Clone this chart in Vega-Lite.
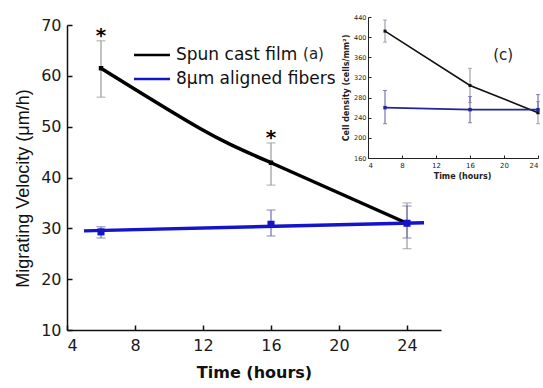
{
  "$schema": "https://vega.github.io/schema/vega-lite/v6.json",
  "width": 374,
  "height": 305,
  "autosize": {"type": "none"},
  "padding": {"left": 67, "top": 25, "right": 102, "bottom": 58},
  "background": "white",
  "config": {"view": {"stroke": null}, "font": "DejaVu Sans"},
  "datasets": {
    "main": [
      {"s": "Spun cast film", "t": 6, "v": 61.5, "lo": 55.8, "hi": 66.9},
      {"s": "Spun cast film", "t": 16, "v": 42.9, "lo": 38.5, "hi": 46.8},
      {"s": "Spun cast film", "t": 24, "v": 31.0, "lo": 26.0, "hi": 35.0},
      {"s": "8μm aligned fibers", "t": 6, "v": 29.3, "lo": 28.1, "hi": 30.3},
      {"s": "8μm aligned fibers", "t": 16, "v": 30.8, "lo": 28.5, "hi": 33.6},
      {"s": "8μm aligned fibers", "t": 24, "v": 31.0, "lo": 28.1, "hi": 34.4}
    ],
    "fit": [
      {"s": "Spun cast film", "t": 6, "v": 61.5},
      {"s": "Spun cast film", "t": 11.8, "v": 49.7},
      {"s": "Spun cast film", "t": 16, "v": 42.9},
      {"s": "Spun cast film", "t": 24, "v": 31.0},
      {"s": "8μm aligned fibers", "t": 5, "v": 29.5},
      {"s": "8μm aligned fibers", "t": 25, "v": 31.1}
    ],
    "stars": [
      {"t": 6, "v": 68.6, "label": "*"},
      {"t": 16, "v": 48.6, "label": "*"}
    ],
    "panelA": [{"t": 18.5, "v": 64.3, "label": "(a)"}],
    "inset": [
      {"s": "Spun cast film", "t": 6, "v": 412, "lo": 390, "hi": 434},
      {"s": "Spun cast film", "t": 16, "v": 304, "lo": 270, "hi": 338},
      {"s": "Spun cast film", "t": 24, "v": 250, "lo": 228, "hi": 272},
      {"s": "8μm aligned fibers", "t": 6, "v": 260, "lo": 228, "hi": 294},
      {"s": "8μm aligned fibers", "t": 16, "v": 256, "lo": 230, "hi": 282},
      {"s": "8μm aligned fibers", "t": 24, "v": 256, "lo": 248, "hi": 286}
    ],
    "panelC": [{"t": 19.9, "v": 365, "label": "(c)"}]
  },
  "layer": [
    {
      "encoding": {
        "x": {
          "field": "t", "type": "quantitative", "title": "Time (hours)",
          "scale": {"domain": [4, 26], "nice": false, "zero": false},
          "axis": {
            "values": [4, 8, 12, 16, 20, 24], "grid": false,
            "tickSize": -5, "tickWidth": 1.5, "tickColor": "#111",
            "domainColor": "#111", "domainWidth": 1.5,
            "labelPadding": 12, "labelFont": "DejaVu Sans", "labelFontSize": 16, "labelColor": "#1a1a1a",
            "title": "Time (hours)", "titleFont": "DejaVu Sans", "titleFontSize": 16, "titleFontWeight": "bold",
            "titleColor": "#111", "titlePadding": 11
          }
        }
      },
      "layer": [
        {
          "data": {"name": "main"},
          "transform": [{"filter": "datum.s == 'Spun cast film'"}],
          "mark": {"type": "rule", "color": "#9a9a9a", "strokeWidth": 1.2},
          "encoding": {
            "y": {
              "field": "lo", "type": "quantitative", "title": "Migrating Velocity (μm/h)",
              "scale": {"domain": [10, 70], "nice": false, "zero": false},
              "axis": {
                "values": [10, 20, 30, 40, 50, 60, 70], "grid": false,
                "tickSize": -5, "tickWidth": 1.5, "tickColor": "#111",
                "domainColor": "#111", "domainWidth": 1.5,
                "labelPadding": 11, "labelFont": "DejaVu Sans", "labelFontSize": 16, "labelColor": "#1a1a1a",
                "title": "Migrating Velocity (μm/h)", "titleFont": "Liberation Sans", "titleFontSize": 18,
                "titleFontWeight": "normal", "titleColor": "#111", "titlePadding": 8, "titleY": 163
              }
            },
            "y2": {"field": "hi"}
          }
        },
        {
          "data": {"name": "main"},
          "transform": [{"filter": "datum.s == 'Spun cast film'"}],
          "mark": {"type": "tick", "orient": "horizontal", "color": "#9a9a9a", "size": 9, "thickness": 1.2},
          "encoding": {"y": {"field": "lo", "type": "quantitative", "title": "Migrating Velocity (μm/h)", "scale": {"domain": [10, 70], "nice": false, "zero": false}}}
        },
        {
          "data": {"name": "main"},
          "transform": [{"filter": "datum.s == 'Spun cast film'"}],
          "mark": {"type": "tick", "orient": "horizontal", "color": "#9a9a9a", "size": 9, "thickness": 1.2},
          "encoding": {"y": {"field": "hi", "type": "quantitative", "title": "Migrating Velocity (μm/h)", "scale": {"domain": [10, 70], "nice": false, "zero": false}}}
        },
        {
          "data": {"name": "main"},
          "transform": [{"filter": "datum.s != 'Spun cast film'"}],
          "mark": {"type": "rule", "color": "#7070b0", "strokeWidth": 1.2},
          "encoding": {
            "y": {"field": "lo", "type": "quantitative", "title": "Migrating Velocity (μm/h)", "scale": {"domain": [10, 70], "nice": false, "zero": false}},
            "y2": {"field": "hi"}
          }
        },
        {
          "data": {"name": "main"},
          "transform": [{"filter": "datum.s != 'Spun cast film'"}],
          "mark": {"type": "tick", "orient": "horizontal", "color": "#7070b0", "size": 9, "thickness": 1.2},
          "encoding": {"y": {"field": "lo", "type": "quantitative", "title": "Migrating Velocity (μm/h)", "scale": {"domain": [10, 70], "nice": false, "zero": false}}}
        },
        {
          "data": {"name": "main"},
          "transform": [{"filter": "datum.s != 'Spun cast film'"}],
          "mark": {"type": "tick", "orient": "horizontal", "color": "#7070b0", "size": 9, "thickness": 1.2},
          "encoding": {"y": {"field": "hi", "type": "quantitative", "title": "Migrating Velocity (μm/h)", "scale": {"domain": [10, 70], "nice": false, "zero": false}}}
        },
        {
          "data": {"name": "fit"},
          "mark": {"type": "line", "interpolate": "natural", "strokeWidth": 3.5},
          "encoding": {
            "y": {"field": "v", "type": "quantitative", "title": "Migrating Velocity (μm/h)", "scale": {"domain": [10, 70], "nice": false, "zero": false}},
            "color": {
              "field": "s", "type": "nominal", "sort": null,
              "scale": {"domain": ["Spun cast film", "8μm aligned fibers"], "range": ["#000000", "#1414c8"]},
              "legend": {
                "orient": "none", "legendX": 90, "legendY": 21.5, "title": null,
                "symbolType": "M-7,0H1", "symbolSize": 81, "symbolStrokeWidth": 2.5,
                "labelFont": "DejaVu Sans", "labelFontSize": 17, "labelColor": "#111",
                "rowPadding": 6, "labelOffset": 2, "padding": 0, "labelLimit": 300
              }
            }
          }
        },
        {
          "data": {"name": "main"},
          "transform": [{"filter": "datum.s == 'Spun cast film'"}],
          "mark": {"type": "point", "shape": "square", "filled": true, "size": 20, "color": "#000000", "opacity": 1},
          "encoding": {"y": {"field": "v", "type": "quantitative", "title": "Migrating Velocity (μm/h)", "scale": {"domain": [10, 70], "nice": false, "zero": false}}}
        },
        {
          "data": {"name": "main"},
          "transform": [{"filter": "datum.s != 'Spun cast film'"}],
          "mark": {"type": "point", "shape": "square", "filled": true, "size": 50, "color": "#1414c8", "opacity": 1},
          "encoding": {"y": {"field": "v", "type": "quantitative", "title": "Migrating Velocity (μm/h)", "scale": {"domain": [10, 70], "nice": false, "zero": false}}}
        },
        {
          "data": {"name": "stars"},
          "mark": {"type": "text", "font": "DejaVu Sans", "fontWeight": "bold", "fontSize": 20, "color": "#000", "baseline": "alphabetic", "dy": 10},
          "encoding": {
            "y": {"field": "v", "type": "quantitative", "title": "Migrating Velocity (μm/h)", "scale": {"domain": [10, 70], "nice": false, "zero": false}},
            "text": {"field": "label"}
          }
        },
        {
          "data": {"name": "panelA"},
          "mark": {"type": "text", "font": "DejaVu Sans", "fontSize": 15, "color": "#222", "baseline": "middle"},
          "encoding": {
            "y": {"field": "v", "type": "quantitative", "title": "Migrating Velocity (μm/h)", "scale": {"domain": [10, 70], "nice": false, "zero": false}},
            "text": {"field": "label"}
          }
        }
      ]
    },
    {
      "encoding": {
        "x": {
          "field": "t", "type": "quantitative", "title": "Time (hours)",
          "scale": {"domain": [4, 24], "nice": false, "zero": false, "range": [301, 471]},
          "axis": {
            "orient": "bottom", "offset": -172, "values": [4, 8, 12, 16, 20, 24], "grid": false,
            "tickSize": -3, "tickWidth": 1, "tickColor": "#222",
            "domainColor": "#222", "domainWidth": 1,
            "labelPadding": 6, "labelFont": "DejaVu Sans", "labelFontSize": 7, "labelColor": "#222",
            "title": "Time (hours)", "titleFont": "DejaVu Sans", "titleFontSize": 8, "titleFontWeight": "bold",
            "titleColor": "#222", "titlePadding": 4, "titleX": 395
          }
        }
      },
      "layer": [
        {
          "data": {"name": "inset"},
          "transform": [{"filter": "datum.s == 'Spun cast film'"}],
          "mark": {"type": "rule", "color": "#8c8c9c", "strokeWidth": 1},
          "encoding": {
            "y": {
              "field": "lo", "type": "quantitative", "title": "Cell density (cells/mm²)",
              "scale": {"domain": [160, 440], "nice": false, "zero": false, "range": [133, -8]},
              "axis": {
                "orient": "left", "offset": -301, "values": [160, 200, 240, 280, 320, 360, 400, 440], "grid": false,
                "tickSize": -3, "tickWidth": 1, "tickColor": "#222",
                "domainColor": "#222", "domainWidth": 1,
                "labelPadding": 5, "labelFont": "DejaVu Sans", "labelFontSize": 6.5, "labelColor": "#222",
                "title": "Cell density (cells/mm²)", "titleFont": "DejaVu Sans", "titleFontSize": 8, "titleFontWeight": "bold",
                "titleColor": "#222", "titlePadding": 3
              }
            },
            "y2": {"field": "hi"}
          }
        },
        {
          "data": {"name": "inset"},
          "transform": [{"filter": "datum.s == 'Spun cast film'"}],
          "mark": {"type": "tick", "orient": "horizontal", "color": "#8c8c9c", "size": 4, "thickness": 1},
          "encoding": {"y": {"field": "lo", "type": "quantitative", "title": "Cell density (cells/mm²)", "scale": {"domain": [160, 440], "nice": false, "zero": false, "range": [133, -8]}}}
        },
        {
          "data": {"name": "inset"},
          "transform": [{"filter": "datum.s == 'Spun cast film'"}],
          "mark": {"type": "tick", "orient": "horizontal", "color": "#8c8c9c", "size": 4, "thickness": 1},
          "encoding": {"y": {"field": "hi", "type": "quantitative", "title": "Cell density (cells/mm²)", "scale": {"domain": [160, 440], "nice": false, "zero": false, "range": [133, -8]}}}
        },
        {
          "data": {"name": "inset"},
          "transform": [{"filter": "datum.s != 'Spun cast film'"}],
          "mark": {"type": "rule", "color": "#5a5aa8", "strokeWidth": 1},
          "encoding": {
            "y": {"field": "lo", "type": "quantitative", "title": "Cell density (cells/mm²)", "scale": {"domain": [160, 440], "nice": false, "zero": false, "range": [133, -8]}},
            "y2": {"field": "hi"}
          }
        },
        {
          "data": {"name": "inset"},
          "transform": [{"filter": "datum.s != 'Spun cast film'"}],
          "mark": {"type": "tick", "orient": "horizontal", "color": "#5a5aa8", "size": 4, "thickness": 1},
          "encoding": {"y": {"field": "lo", "type": "quantitative", "title": "Cell density (cells/mm²)", "scale": {"domain": [160, 440], "nice": false, "zero": false, "range": [133, -8]}}}
        },
        {
          "data": {"name": "inset"},
          "transform": [{"filter": "datum.s != 'Spun cast film'"}],
          "mark": {"type": "tick", "orient": "horizontal", "color": "#5a5aa8", "size": 4, "thickness": 1},
          "encoding": {"y": {"field": "hi", "type": "quantitative", "title": "Cell density (cells/mm²)", "scale": {"domain": [160, 440], "nice": false, "zero": false, "range": [133, -8]}}}
        },
        {
          "data": {"name": "inset"},
          "transform": [{"filter": "datum.s == 'Spun cast film'"}],
          "mark": {"type": "line", "color": "#111111", "strokeWidth": 1.6, "point": {"shape": "square", "filled": true, "size": 9, "color": "#111111"}},
          "encoding": {"y": {"field": "v", "type": "quantitative", "title": "Cell density (cells/mm²)", "scale": {"domain": [160, 440], "nice": false, "zero": false, "range": [133, -8]}}}
        },
        {
          "data": {"name": "inset"},
          "transform": [{"filter": "datum.s != 'Spun cast film'"}],
          "mark": {"type": "line", "color": "#23239c", "strokeWidth": 1.6, "point": {"shape": "square", "filled": true, "size": 12, "color": "#23239c"}},
          "encoding": {"y": {"field": "v", "type": "quantitative", "title": "Cell density (cells/mm²)", "scale": {"domain": [160, 440], "nice": false, "zero": false, "range": [133, -8]}}}
        },
        {
          "data": {"name": "panelC"},
          "mark": {"type": "text", "font": "DejaVu Sans", "fontSize": 15, "color": "#222", "baseline": "middle"},
          "encoding": {
            "y": {"field": "v", "type": "quantitative", "title": "Cell density (cells/mm²)", "scale": {"domain": [160, 440], "nice": false, "zero": false, "range": [133, -8]}},
            "text": {"field": "label"}
          }
        }
      ]
    }
  ],
  "resolve": {"scale": {"x": "independent", "y": "independent"}, "axis": {"x": "independent", "y": "independent"}}
}
